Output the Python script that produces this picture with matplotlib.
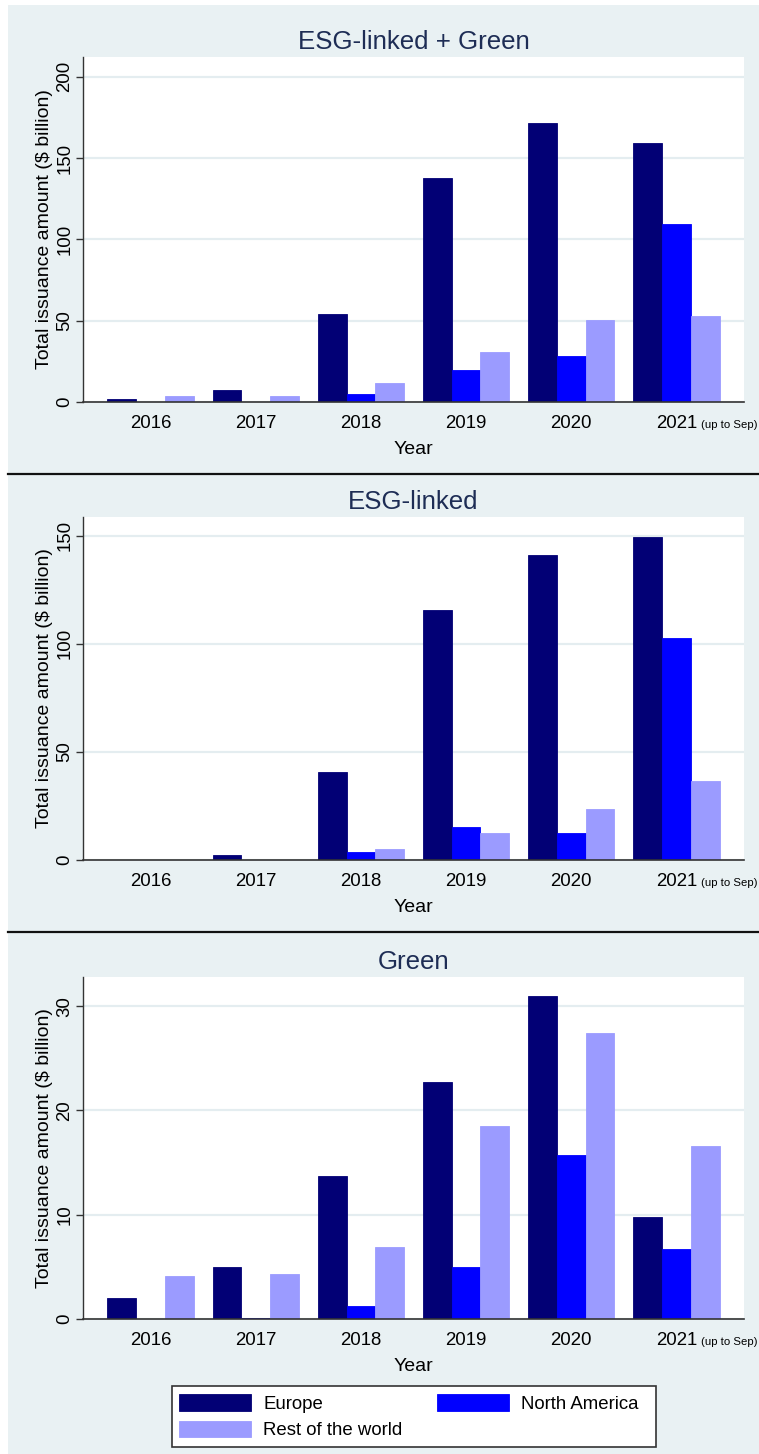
import numpy as np
import matplotlib
matplotlib.use("Agg")
import matplotlib.pyplot as plt
from matplotlib.patches import Rectangle
from matplotlib.lines import Line2D

plt.rcParams['font.family'] = ['Liberation Sans', 'DejaVu Sans']

years = ['2016', '2017', '2018', '2019', '2020', '2021']
regions = ['Europe', 'North America', 'Rest of the world']
colors = ['#020075', '#0000FF', '#9B9BFF']

# ESG-linked + Green
both_eu = [1.8, 7.4, 54.4, 137.8, 171.7, 159.4]
both_na = [0.0, 0.1, 4.9, 19.9, 28.1, 109.3]
both_row = [3.9, 3.9, 11.9, 30.8, 50.7, 52.7]

# ESG-linked
esg_eu = [0.0, 2.3, 40.6, 115.4, 140.9, 149.5]
esg_na = [0.0, 0.0, 3.8, 15.2, 12.6, 102.8]
esg_row = [0.0, 0.0, 5.1, 12.3, 23.4, 36.3]

# Green
green_eu = [2.0, 5.0, 13.7, 22.7, 31.0, 9.8]
green_na = [0.0, 0.1, 1.2, 5.0, 15.7, 6.7]
green_row = [4.1, 4.3, 6.9, 18.5, 27.4, 16.6]

W, H = 759, 1454
bg = '#E9F1F3'
fig = plt.figure(figsize=(W / 100, H / 100), dpi=100)
fig.patch.set_facecolor('white')
fig.patches.append(Rectangle((8 / W, 0), 1, 1 - 5 / H, transform=fig.transFigure,
                             facecolor=bg, edgecolor='none', zorder=-10))

# separators between the panels
for ys in [473.5, 932]:
    fig.lines.append(Line2D([8 / W, 1], [1 - ys / H, 1 - ys / H], transform=fig.transFigure,
                            color='#111111', lw=1.6))


def panel(top, bottom, title, data, ymax, yticks):
    ax = fig.add_axes([83 / W, 1 - bottom / H, 661 / W, (bottom - top) / H])
    ax.set_facecolor('white')
    x = np.arange(len(years))
    w = 0.273
    for i, vals in enumerate(data):
        ax.bar(x + (i - 1) * w, vals, w, color=colors[i], edgecolor=colors[i], lw=0.6,
               label=regions[i], zorder=3)
    ax.set_xlim(-0.642, 5.642)
    ax.set_ylim(0, ymax)
    ax.set_yticks(yticks)
    ax.grid(axis='y', color='#E4EDF0', lw=1.6, zorder=0)
    ax.set_axisbelow(True)
    for s in ['top', 'right']:
        ax.spines[s].set_visible(False)
    ax.spines['left'].set_color('#333333')
    ax.spines['left'].set_linewidth(1.0)
    ax.spines['bottom'].set_color('#333333')
    ax.spines['bottom'].set_linewidth(1.2)
    ax.spines['bottom'].set_zorder(5)
    ax.set_xticks(x)
    ax.set_xticklabels(years)
    ax.tick_params(axis='x', length=0, pad=9.5, labelsize=13.4)
    ax.tick_params(axis='y', length=5, width=1, color='#333333', pad=2, labelsize=13.4,
                   labelrotation=90)
    for lab in ax.get_yticklabels():
        lab.set_va('center')
    ax.annotate('(up to Sep)', xy=(5, 0), xycoords=('data', 'axes fraction'),
                xytext=(17.6, -18.7), textcoords='offset points', fontsize=8.2,
                ha='left', va='baseline')
    ax.set_title(title, fontsize=18.6, color='#1E2D55', pad=6)
    ax.set_xlabel('Year', fontsize=14, labelpad=6)
    ax.set_ylabel('Total issuance amount ($ billion)', fontsize=14)
    ax.yaxis.set_label_coords(-38 / 661, 0.5)
    ax.yaxis.label.set_va('center')
    return ax


panel(57, 402, 'ESG-linked + Green', [both_eu, both_na, both_row], 212.1, [0, 50, 100, 150, 200])
panel(517, 860, 'ESG-linked', [esg_eu, esg_na, esg_row], 158.6, [0, 50, 100, 150])
ax = panel(977, 1319, 'Green', [green_eu, green_na, green_row], 32.8, [0, 10, 20, 30])

# legend box
fig.patches.append(Rectangle((172 / W, 1 - 1447 / H), 484 / W, 61 / H, transform=fig.transFigure,
                             facecolor='white', edgecolor='#333333', lw=1.2, zorder=1))
h, l = ax.get_legend_handles_labels()
order = [0, 2, 1]
leg = fig.legend([h[i] for i in order], [l[i] for i in order], ncol=2,
                 loc='upper left', bbox_to_anchor=(179 / W, 1 - 1394 / H),
                 fontsize=13.4, handlelength=3.87, handleheight=1.0, handletextpad=0.65,
                 labelspacing=0.42, columnspacing=1.85, borderpad=0, borderaxespad=0,
                 frameon=False)

fig.savefig('out.png', dpi=100, facecolor=fig.get_facecolor())
